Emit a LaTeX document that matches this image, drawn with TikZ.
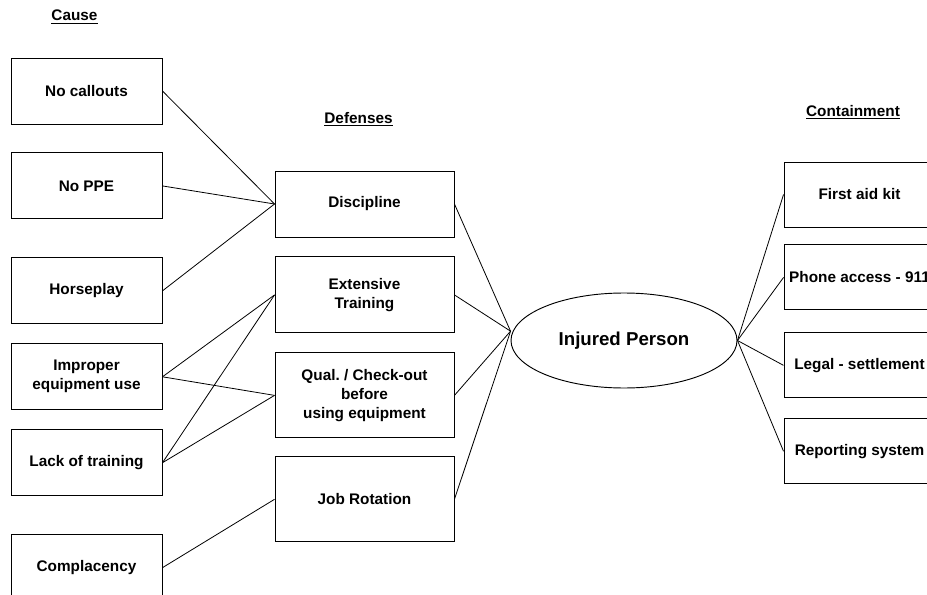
\documentclass[tikz,border=0pt]{standalone}
\usepackage{fontspec}
\setmainfont{Liberation Sans}
\usetikzlibrary{shapes.geometric,positioning}

\begin{document}
\begin{tikzpicture}[
        x=0.75pt, y=-0.75pt,
        node distance=14.25pt,
        cause/.style={
            rectangle, draw, line width=0.7pt,
            minimum width=113.25pt, minimum height=49.5pt,
            inner sep=2pt, align=center,
            font=\bfseries\fontsize{11.5}{14.25}\selectfont
        },
        defense/.style={cause, minimum width=134.25pt},
        contain/.style={cause, minimum height=48.75pt},
        header/.style={font=\bfseries\fontsize{11.5}{14}\selectfont},
        link/.style={line width=0.6pt}
    ]
    \useasboundingbox (0,0) rectangle (927,595);
    \clip (0,0) rectangle (927,595);

    % Column headers
    \node[header] (hcause) at (74.5,17) {\underline{Cause}};
    \node[header] (hdef) at (358.5,119) {\underline{Defenses}};
    \node[header] (hcont) at (853,112) {\underline{Containment}};

    % Causes
    \node[cause] (nocall) at (86.5,91) {No callouts};
    \node[cause, below=21pt of nocall] (noppe) {No PPE};
    \node[cause, below=28.5pt of noppe] (horse) {Horseplay};
    \node[cause, below=of horse] (improper) {Improper\\equipment use};
    \node[cause, below=of improper] (lack) {Lack of training};
    \node[cause, below=28.5pt of lack] (compl) {Complacency};

    % Defenses
    \node[defense] (disc) at (364.5,204) {Discipline};
    \node[defense, minimum height=57pt, below=of disc] (train) {Extensive\\Training};
    \node[defense, minimum height=63.75pt, below=of train] (qual) {Qual.\ / Check-out\\before\\using equipment};
    \node[defense, minimum height=63.75pt, below=13.5pt of qual] (jobrot) {Job Rotation};

    % Event
    \node[ellipse, draw, line width=0.7pt, minimum width=169.5pt, minimum height=71.25pt,
        inner sep=0pt, font=\bfseries\fontsize{14}{16}\selectfont] (person) at (624,340.5) {Injured Person};
    \coordinate (hub) at ([yshift=7pt]person.west);

    % Containment
    \node[contain] (aid) at (859.5,194.5) {First aid kit};
    \node[contain, below=12.75pt of aid] (phone) {Phone access - 911};
    \node[contain, below=16.5pt of phone] (legal) {Legal - settlement};
    \node[contain, below=15pt of legal] (report) {Reporting system};

    % Causes to defenses
    \foreach \c in {nocall,noppe,horse}
        \draw[link] (\c.east) -- (disc.west);
    \foreach \c in {improper,lack} {
        \draw[link] (\c.east) -- (train.west);
        \draw[link] (\c.east) -- (qual.west);
    }
    \draw[link] (compl.east) -- (jobrot.west);

    % Defenses to injured person
    \foreach \d in {disc,train,qual,jobrot}
        \draw[link] (\d.east) -- (hub);

    % Injured person to containment
    \foreach \k in {aid,phone,legal,report}
        \draw[link] (person.east) -- (\k.west);
\end{tikzpicture}
\end{document}
